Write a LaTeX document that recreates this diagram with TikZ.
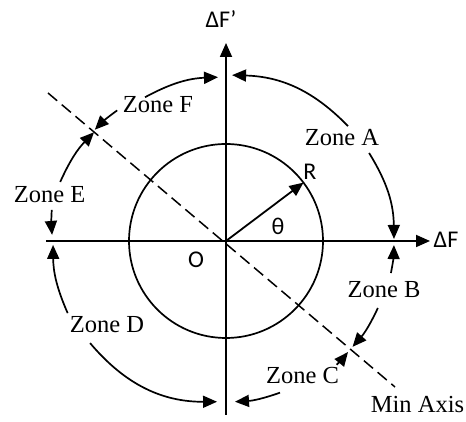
\documentclass[tikz,border=0pt]{standalone}
\usepackage{fontspec}
\setmainfont{Liberation Serif}
\newfontfamily\calib{Carlito}
\usetikzlibrary{arrows.meta,calc}
\begin{document}
\begin{tikzpicture}[x=1pt,y=1pt,
  axisline/.style={line width=1.8pt, -{Triangle[length=14pt,width=12pt]}},
  zarc/.style={line width=1.7pt, -{Triangle[length=14pt,width=12pt]}},
  zlabel/.style={font=\fontsize{24.5}{26}\selectfont, anchor=base, inner sep=0pt},
  slabel/.style={font=\calib\fontsize{24}{26}\selectfont, anchor=base, inner sep=0pt},
]
\useasboundingbox (0,0) rectangle (466,422);
\coordinate (O) at (226,181);
\coordinate (xl) at (46,181);
\coordinate (xr) at (430,181);
\coordinate (yb) at (226,7);
\coordinate (yt) at (226,379);
\draw[axisline] (xl) -- (xr);
\draw[axisline] (yb) -- (yt);
\node[circle, draw, line width=1.7pt, minimum size=194pt, inner sep=0pt] (circ) at (O) {};
\coordinate (d1) at (48,329);
\coordinate (d2) at (395,35);
\draw[line width=1.5pt, dash pattern=on 12pt off 6pt] (d1) -- (d2);
\coordinate (Rt) at ($(O)+(37:97)$);
\draw[axisline] (O) -- (Rt);
% labels
\node[slabel] (dF) at (446,174) {ΔF};
\node[slabel] (dFp) at (221,394) {ΔF’};
\node[slabel] (Rl) at (310,242) {R};
\node[slabel] (th) at (278,187) {θ};
\node[slabel] (Ol) at (196,154) {O};
\node[zlabel] (zA) at (342,276) {Zone A};
\node[zlabel] (zB) at (384,124) {Zone B};
\node[zlabel] (zC) at (302.5,38) {Zone C};
\node[zlabel] (zD) at (107,89) {Zone D};
\node[zlabel] (zE) at (49.5,219) {Zone E};
\node[zlabel] (zF) at (158,309) {Zone F};
\node[zlabel] (minax) at (417.5,9) {Min Axis};
% arc coordinates
\coordinate (A1s) at ($(O)+(43.3:167.6)$);
\coordinate (A1t) at ($(O)+(87.9:166)$);
\coordinate (A2s) at ($(O)+(31.6:168)$);
\coordinate (A2t) at ($(O)+(0.7:168)$);
\coordinate (B1s) at ($(O)+(-11:168)$);
\coordinate (B1t) at ($(O)+(-1.4:168)$);
\coordinate (B2s) at ($(O)+(-23.8:166)$);
\coordinate (B2t) at ($(O)+(-39.9:165)$);
\coordinate (C1s) at ($(O)+(-48.2:166)$);
\coordinate (C1t) at ($(O)+(-42.3:165)$);
\coordinate (C2s) at ($(O)+(-70.4:161)$);
\coordinate (C2t) at ($(O)+(-86.8:161)$);
\coordinate (D2s) at ($(O)+(216.9:170)$);
\coordinate (D2t) at ($(O)+(266.8:161)$);
\coordinate (D1s) at ($(O)+(204.5:174)$);
\coordinate (D1t) at ($(O)+(181.3:173)$);
\coordinate (E2s) at ($(O)+(169.9:177)$);
\coordinate (E2t) at ($(O)+(178:174)$);
\coordinate (E1s) at ($(O)+(160.4:176)$);
\coordinate (E1t) at ($(O)+(140.5:171)$);
\coordinate (F2s) at ($(O)+(129.8:170)$);
\coordinate (F2t) at ($(O)+(139.7:172)$);
\coordinate (F1s) at ($(O)+(119.4:165)$);
\coordinate (F1t) at ($(O)+(92.8:164)$);
\draw[zarc] (A1s) to[bend right=22] (A1t);
\draw[zarc] (A2s) to[bend left=15.5] (A2t);
\draw[zarc] (B1s) to[bend right=5] (B1t);
\draw[zarc] (B2s) to[bend left=8] (B2t);
\draw[zarc] (C1s) to[bend right=3] (C1t);
\draw[zarc] (C2s) to[bend left=8] (C2t);
\draw[zarc] (D2s) to[bend right=25] (D2t);
\draw[zarc] (D1s) to[bend left=11.6] (D1t);
\draw[zarc] (E2s) to[bend right=4] (E2t);
\draw[zarc] (E1s) to[bend left=10] (E1t);
\draw[zarc] (F2s) to[bend right=5] (F2t);
\draw[zarc] (F1s) to[bend left=13] (F1t);
\end{tikzpicture}
\end{document}
